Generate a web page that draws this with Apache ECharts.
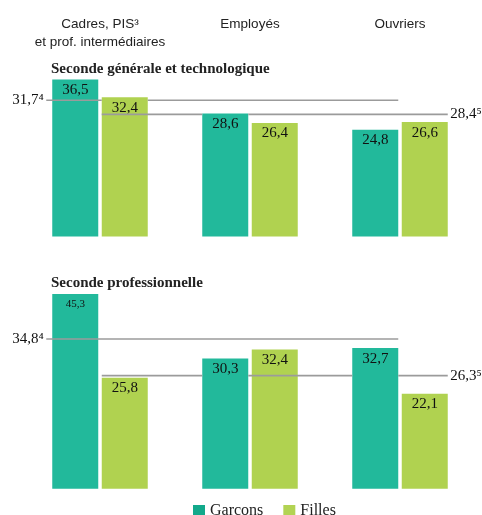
<!DOCTYPE html>
<html><head><meta charset="utf-8">
<script src="https://cdn.jsdelivr.net/npm/echarts@6/dist/echarts.min.js"></script>
<style>html,body{margin:0;padding:0;background:#fff}#c{width:482px;height:515px}</style>
</head><body><div id="c"></div>
<script>
// ---- data ----
const categories = ['Cadres, PIS³\net prof. intermédiaires', 'Employés', 'Ouvriers'];
const seriesNames = ['Garcons', 'Filles'];
const panelTitles = ['Seconde générale et technologique', 'Seconde professionnelle'];
const gtGarcons = [36.5, 28.6, 24.8];
const gtFilles = [32.4, 26.4, 26.6];
const proGarcons = [45.3, 30.3, 32.7];
const proFilles = [25.8, 32.4, 22.1];
const gtAvgGarcons = 31.7, gtAvgFilles = 28.4;
const proAvgGarcons = 34.8, proAvgFilles = 26.3;
const avgNoteGarcons = '⁴', avgNoteFilles = '⁵';

// ---- layout ----
const SERIF = 'Liberation Serif';
const SANS = 'Liberation Sans';
const COL_G = '#22b99b', COL_F = '#b0d250';
const BAND = 150, BARW = 46, GAP = 3.5;
const b = BARW / BAND, g = GAP / BAND;
const gStart = i => i + 0.5 - g / 2 - b, gEnd = i => i + 0.5 - g / 2;
const fStart = i => i + 0.5 + g / 2, fEnd = i => i + 0.5 + g / 2 + b;
const fmt = v => v.toFixed(1).replace('.', ',');

function avgLine(value, x0, x1, otherVals, otherStart, otherEnd, note, side) {
  const pts = [];
  let cur = x0;
  const segs = [];
  otherVals.forEach((ov, i) => {
    const s = otherStart(i), e = otherEnd(i);
    if (ov > value && e > x0 && s < x1) segs.push([Math.max(s, x0), Math.min(e, x1)]);
  });
  segs.forEach(([s, e]) => {
    if (s > cur) { pts.push([cur, value], [s, value], [(s + e) / 2, '-']); }
    cur = e;
  });
  pts.push([cur, value], [x1, value]);
  const data = pts.map(p => ({ value: p }));
  const idx = side === 'left' ? 0 : data.length - 1;
  data[idx] = {
    value: data[idx].value,
    label: { show: true, position: side, distance: 2, formatter: fmt(value) + note,
      fontFamily: SERIF, fontSize: 15, color: '#111' }
  };
  return data;
}

function panelSeries(gi, gVals, fVals, avgG, avgF) {
  const lbl = { show: true, position: 'insideTop', distance: 3, fontFamily: SERIF, fontSize: 15, color: '#111',
    formatter: p => fmt(p.value) };
  const gData = gVals.map(v => v > 40 ? { value: v, label: { fontSize: 11, distance: 5 } } : v);
  return [
    { type: 'bar', name: seriesNames[0], xAxisIndex: gi * 2, yAxisIndex: gi, data: gData,
      barWidth: BARW, barGap: (GAP / BARW * 100) + '%', itemStyle: { color: COL_G }, label: lbl, z: 2 },
    { type: 'bar', name: seriesNames[1], xAxisIndex: gi * 2, yAxisIndex: gi, data: fVals,
      barWidth: BARW, itemStyle: { color: COL_F }, label: lbl, z: 2 },
    { type: 'line', xAxisIndex: gi * 2 + 1, yAxisIndex: gi, z: 3, silent: true,
      data: avgLine(avgG, gStart(0) - 6 / BAND, gEnd(2), fVals, fStart, fEnd, avgNoteGarcons, 'left'),
      symbol: 'circle', symbolSize: 1, itemStyle: { color: 'rgba(0,0,0,0)' },
      lineStyle: { color: '#9b9b9b', width: 1.6 }, connectNulls: false },
    { type: 'line', xAxisIndex: gi * 2 + 1, yAxisIndex: gi, z: 3, silent: true,
      data: avgLine(avgF, fStart(0), fEnd(2), gVals, gStart, gEnd, avgNoteFilles, 'right'),
      symbol: 'circle', symbolSize: 1, itemStyle: { color: 'rgba(0,0,0,0)' },
      lineStyle: { color: '#9b9b9b', width: 1.6 }, connectNulls: false }
  ];
}

const legendText = { fontFamily: SERIF, fontSize: 16, color: '#222' };
const chart = echarts.init(document.getElementById('c'), null, { renderer: 'canvas' });
chart.setOption({
  animation: false,
  backgroundColor: '#fff',
  title: [
    { text: panelTitles[0], left: 51, top: 62, padding: 0,
      textStyle: { fontFamily: SERIF, fontWeight: 'bold', fontSize: 15, color: '#222' } },
    { text: panelTitles[1], left: 51, top: 276, padding: 0,
      textStyle: { fontFamily: SERIF, fontWeight: 'bold', fontSize: 15, color: '#222' } }
  ],
  legend: {
    left: 188, top: 498, itemWidth: 12, itemHeight: 12, itemGap: 20, icon: 'rect',
    textStyle: legendText,
    data: [{ name: seriesNames[0], itemStyle: { color: '#12a98b' }, textStyle: legendText },
           { name: seriesNames[1], itemStyle: { color: '#b2d353' }, textStyle: legendText }]
  },
  grid: [
    { left: 25, width: 450, top: 64.5, height: 172 },
    { left: 25, width: 450, top: 273.7, height: 215 }
  ],
  xAxis: [
    { type: 'category', gridIndex: 0, data: categories, position: 'top',
      axisLine: { show: false }, axisTick: { show: false },
      axisLabel: { interval: 0, fontFamily: SANS, fontSize: 13.5, color: '#222', verticalAlign: 'top', margin: 49, lineHeight: 18 } },
    { type: 'value', gridIndex: 0, min: 0, max: 3, show: false },
    { type: 'category', gridIndex: 1, data: categories, show: false },
    { type: 'value', gridIndex: 1, min: 0, max: 3, show: false }
  ],
  yAxis: [
    { type: 'value', gridIndex: 0, min: 0, max: 40, show: false },
    { type: 'value', gridIndex: 1, min: 0, max: 50, show: false }
  ],
  series: [
    ...panelSeries(0, gtGarcons, gtFilles, gtAvgGarcons, gtAvgFilles),
    ...panelSeries(1, proGarcons, proFilles, proAvgGarcons, proAvgFilles)
  ]
});
</script></body></html>
